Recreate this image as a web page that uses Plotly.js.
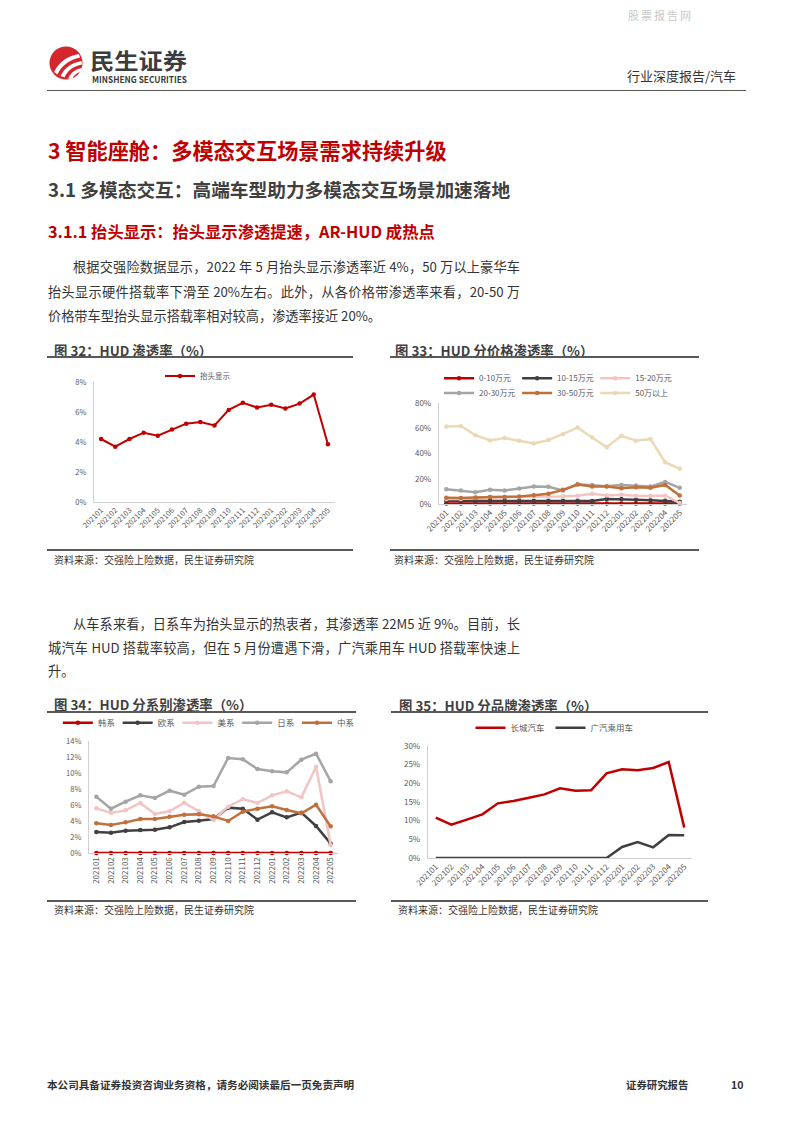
<!DOCTYPE html>
<html>
<head>
<meta charset="utf-8">
<script src="https://cdn.plot.ly/plotly-3.0.1.min.js"></script>
<style>
  html, body { margin:0; padding:0; background:#fff; }
  body { width:794px; height:1123px; position:relative; overflow:hidden;
         font-family:"Noto Sans CJK SC","Noto Sans",sans-serif; color:#333; }
  .t { position:absolute; white-space:nowrap; }
  .hr { position:absolute; background:#595959; }
  .chart { position:absolute; }
  .jl { position:absolute; text-align:justify; text-align-last:justify; white-space:nowrap; }
</style>
</head>
<body>

<div class="t" style="left:628px;top:7px;font-size:11px;line-height:16px;color:#c8c8c8;letter-spacing:2px;">股票报告网</div>

<svg style="position:absolute;left:48px;top:45px;" width="36" height="36" viewBox="0 0 36 36">
  <circle cx="18" cy="18" r="16.5" fill="#D4262C"/>
  <path d="M6,27 C11,17 19,11 31,9 L32,12.5 C22,14.5 14,20 9.5,29.5 Z" fill="#fff"/>
  <path d="M12.5,31 C16.5,23 23,18 33.5,16 L34,19.5 C25.5,21 19.5,25.5 16.5,32.5 Z" fill="#fff"/>
  <path d="M20,33.5 C22.5,28 27.5,24 34.3,23 L33.8,26.5 C29,27.5 26,30 24,34 Z" fill="#fff"/>
</svg>
<div class="t" id="mlogo" style="left:90px;top:47.5px;font-size:22px;line-height:22px;height:22px;font-weight:bold;color:#3c3c3c;transform-origin:0 50%;">民生证券</div>
<div class="t" id="msec" style="left:92px;top:75px;font-size:9px;line-height:9px;height:9px;font-weight:bold;color:#3c3c3c;transform-origin:0 50%;">MINSHENG SECURITIES</div>

<div class="t" style="left:627px;top:67px;font-size:13px;line-height:18px;color:#333;">行业深度报告/汽车</div>
<div class="hr" style="left:47px;top:90px;width:699px;height:1px;background:#555;"></div>

<div class="t" style="left:48px;top:135px;font-size:21.2px;line-height:30px;font-weight:bold;color:#C00000;">3 智能座舱：多模态交互场景需求持续升级</div>
<div class="t" style="left:48px;top:176px;font-size:18.7px;line-height:26px;font-weight:bold;color:#404040;">3.1 多模态交互：高端车型助力多模态交互场景加速落地</div>
<div class="t" style="left:48px;top:220px;font-size:16.3px;line-height:22px;font-weight:bold;color:#C00000;">3.1.1 抬头显示：抬头显示渗透提速，AR-HUD 成热点</div>

<div class="jl" style="left:73px;top:257px;width:447px;font-size:13.2px;line-height:20px;">根据交强险数据显示，2022 年 5 月抬头显示渗透率近 4%，50 万以上豪华车</div>
<div class="jl" style="left:48px;top:282px;width:472px;font-size:13.2px;line-height:20px;">抬头显示硬件搭载率下滑至 20%左右。此外，从各价格带渗透率来看，20-50 万</div>
<div class="t" style="left:48px;top:305.5px;font-size:13.2px;line-height:20px;">价格带车型抬头显示搭载率相对较高，渗透率接近 20%。</div>

<div class="t" style="left:54px;top:341px;font-size:13.4px;line-height:18px;font-weight:bold;color:#404040;">图 32：HUD 渗透率（%）</div>
<div class="hr" style="left:47px;top:356px;width:306px;height:2px;"></div>
<div class="t" style="left:395px;top:341px;font-size:13.4px;line-height:18px;font-weight:bold;color:#404040;">图 33：HUD 分价格渗透率（%）</div>
<div class="hr" style="left:390px;top:356px;width:309px;height:2px;"></div>

<div id="c32" class="chart" style="left:47px;top:360px;width:306px;height:188px;"></div>
<div id="c33" class="chart" style="left:390px;top:360px;width:310px;height:188px;"></div>

<div class="hr" style="left:47px;top:549px;width:306px;height:2px;"></div>
<div class="hr" style="left:390px;top:549px;width:309px;height:2px;"></div>
<div class="t" style="left:54px;top:553px;font-size:10px;line-height:14px;">资料来源：交强险上险数据，民生证券研究院</div>
<div class="t" style="left:394px;top:552.5px;font-size:10px;line-height:14px;">资料来源：交强险上险数据，民生证券研究院</div>

<div class="jl" style="left:73px;top:613.5px;width:447px;font-size:13.2px;line-height:20px;">从车系来看，日系车为抬头显示的热衷者，其渗透率 22M5 近 9%。目前，长</div>
<div class="jl" style="left:48px;top:637.5px;width:472px;font-size:13.2px;line-height:20px;">城汽车 HUD 搭载率较高，但在 5 月份遭遇下滑，广汽乘用车 HUD 搭载率快速上</div>
<div class="t" style="left:48px;top:661px;font-size:13.2px;line-height:20px;">升。</div>

<div class="t" style="left:54px;top:695px;font-size:13.4px;line-height:18px;font-weight:bold;color:#404040;">图 34：HUD 分系别渗透率（%）</div>
<div class="hr" style="left:47px;top:711px;width:309px;height:2px;"></div>
<div class="t" style="left:399px;top:696px;font-size:13.4px;line-height:18px;font-weight:bold;color:#404040;">图 35：HUD 分品牌渗透率（%）</div>
<div class="hr" style="left:391px;top:711px;width:317px;height:2px;"></div>

<div id="c34" class="chart" style="left:47px;top:714px;width:309px;height:184px;"></div>
<div id="c35" class="chart" style="left:391px;top:714px;width:317px;height:184px;"></div>

<div class="hr" style="left:47px;top:900px;width:309px;height:2px;"></div>
<div class="hr" style="left:391px;top:900px;width:317px;height:2px;"></div>
<div class="t" style="left:54px;top:903px;font-size:10px;line-height:14px;">资料来源：交强险上险数据，民生证券研究院</div>
<div class="t" style="left:398px;top:903px;font-size:10px;line-height:14px;">资料来源：交强险上险数据，民生证券研究院</div>

<div class="t" style="left:47px;top:1078px;font-size:10.6px;line-height:14px;font-weight:600;color:#333;">本公司具备证券投资咨询业务资格，请务必阅读最后一页免责声明</div>
<div class="t" style="left:626px;top:1078px;font-size:10.4px;line-height:14px;font-weight:600;color:#333;">证券研究报告</div>
<div class="t" style="left:731px;top:1078px;font-size:10.5px;line-height:14px;font-weight:bold;color:#333;">10</div>

<script>
// ---------- data ----------
const months = ['202101','202102','202103','202104','202105','202106','202107','202108','202109','202110','202111','202112','202201','202202','202203','202204','202205'];

// 图32 抬头显示渗透率 (%)
const hudName = '抬头显示';
const hudRate = [4.20,3.69,4.20,4.62,4.42,4.84,5.22,5.33,5.10,6.14,6.61,6.30,6.48,6.23,6.56,7.16,3.85];

// 图33 分价格渗透率 (%)
const priceBands = ['0-10万元','10-15万元','15-20万元','20-30万元','30-50万元','50万以上'];
const price0to10  = [0.3,0.3,0.3,0.3,0.3,0.3,0.3,0.3,0.3,0.3,0.3,0.3,0.3,0.3,0.3,0.3,0.3];
const price10to15 = [2.6,2.6,2.6,2.6,2.6,2.6,2.6,2.6,2.6,2.6,2.3,3.9,3.9,3.4,2.9,2.6,1.8];
const price15to20 = [4.0,4.0,5.0,5.7,5.5,5.5,5.7,5.7,6.0,6.5,8.1,6.8,7.3,6.5,6.3,6.8,0.8];
const price20to30 = [11.7,10.7,9.4,11.2,10.7,12.3,13.8,13.6,10.7,15.7,15.1,14.1,15.1,14.6,13.8,17.5,12.8];
const price30to50 = [5.0,4.7,5.2,5.5,5.5,6.0,7.0,8.1,11.2,15.4,13.8,13.8,12.5,13.3,12.8,15.1,6.8];
const price50up   = [61.3,61.8,54.5,50.3,52.2,50.1,48.0,50.6,55.3,60.5,52.7,44.9,54.0,50.1,51.4,33.1,27.9];

// 图34 分系别渗透率 (%)
const originNames = ['韩系','欧系','美系','日系','中系'];
const korean   = [0,0,0,0,0,0,0,0,0,0,0,0,0,0,0,0,0];
const european = [2.63,2.54,2.79,2.88,2.92,3.21,3.88,4.04,4.25,5.67,5.54,4.17,5.08,4.46,5.04,3.38,1.17];
const american = [5.58,5.00,5.33,6.25,4.88,5.21,6.29,5.25,4.13,5.79,6.75,6.25,7.21,7.71,6.96,10.79,0.96];
const japanese = [7.04,5.54,6.42,7.21,6.88,7.79,7.29,8.29,8.38,11.88,11.71,10.50,10.21,10.08,11.67,12.42,8.96];
const chinese  = [3.71,3.50,3.83,4.25,4.25,4.54,4.79,4.83,4.58,4.00,5.17,5.54,5.83,5.38,4.96,6.04,3.33];

// 图35 分品牌渗透率 (%)
const brandNames = ['长城汽车','广汽乘用车'];
const greatWall = [10.8,8.93,10.27,11.7,14.64,15.27,16.16,17.05,18.66,18.04,18.13,22.68,23.75,23.48,24.1,25.71,8.13];
const gacMotor  = [0,0,0,0,0,0,0,0,0,0,0,0,2.95,4.29,2.86,6.16,6.07];

// ---------- helpers ----------
const FONT = 'Noto Sans CJK SC, Noto Sans, sans-serif';
const TICK = '#595959';
const AXIS = '#D0D0D0';
const cfg = {staticPlot:true, displayModeBar:false};

function xAxis(angle, size) {
  return {type:'category', tickangle:angle, tickfont:{size:size, color:TICK, family:FONT},
          showline:true, linecolor:AXIS, linewidth:1, ticks:'', showgrid:false, zeroline:false,
          automargin:false, range:[-0.5, months.length-0.5]};
}
function yAxis(max, step, size) {
  return {range:[0,max], dtick:step, ticksuffix:'%', tickfont:{size:size, color:TICK, family:FONT},
          showline:true, linecolor:AXIS, linewidth:1.2, ticks:'', showgrid:false, zeroline:false,
          automargin:false, ticklabelstandoff:5};
}
function line(name, y, color, width, marker, legendId) {
  const tr = {type:'scatter', x:months, y:y, name:name, mode: marker ? 'lines+markers' : 'lines',
              line:{color:color, width:width}, hoverinfo:'skip', cliponaxis:false,
              legend: legendId || 'legend'};
  if (marker) tr.marker = {color:color, size:marker, symbol:'circle'};
  return tr;
}
function leg(x, y, size) {
  return {orientation:'h', x:x, xanchor:'left', y:y, yanchor:'middle', bgcolor:'rgba(0,0,0,0)',
          font:{size:size, color:TICK, family:FONT}, itemwidth:30, borderwidth:0,
          itemclick:false, itemdoubleclick:false};
}
function legendId(i) { return i === 0 ? 'legend' : 'legend' + (i + 1); }
function baseLayout(w, h, m) {
  return {width:w, height:h, margin:Object.assign({autoexpand:false}, m),
          paper_bgcolor:'rgba(0,0,0,0)', plot_bgcolor:'rgba(0,0,0,0)',
          font:{family:FONT}, showlegend:true};
}

// ---------- 图32 ----------
const L32 = baseLayout(306, 188, {l:47, r:18, t:22, b:46});
L32.legend = leg(0.274, 1.05, 7.5);
L32.xaxis = xAxis(-45, 7.5);
L32.yaxis = yAxis(8, 2, 7.5);
Plotly.newPlot('c32', [line(hudName, hudRate, '#C00000', 2, 4.5)], L32, cfg);

// ---------- 图33 ----------
const c33colors = ['#C00000','#404040','#F2C4C4','#A5A5A5','#C0703A','#EBD8B4'];
const c33data = [price0to10, price10to15, price15to20, price20to30, price30to50, price50up];
const c33traces = c33data.map((d,i) => line(priceBands[i], d, c33colors[i], 2.5, 4.5, legendId(i)));
const L33 = baseLayout(310, 188, {l:49, r:13, t:43, b:44});
const c33legX = [0.0, 0.315, 0.63];
const c33legY = [1.246, 1.098];
c33data.forEach((d,i) => { L33[legendId(i)] = leg(c33legX[i % 3], c33legY[Math.floor(i / 3)], 8); });
L33.xaxis = xAxis(-45, 8);
L33.yaxis = yAxis(80, 20, 8);
Plotly.newPlot('c33', c33traces, L33, cfg);

// ---------- 图34 ----------
const c34colors = ['#C00000','#404040','#F2C4C4','#A5A5A5','#C0703A'];
const c34data = [korean, european, american, japanese, chinese];
const c34traces = c34data.map((d,i) => line(originNames[i], d, c34colors[i], 2.5, 4.5, legendId(i)));
const L34 = baseLayout(309, 184, {l:42, r:18, t:27, b:45});
const c34legX = [-0.125, 0.115, 0.355, 0.595, 0.835];
c34data.forEach((d,i) => { L34[legendId(i)] = leg(c34legX[i], 1.164, 8.5); });
L34.xaxis = xAxis(-90, 8);
L34.yaxis = yAxis(14, 2, 7.5);
Plotly.newPlot('c34', c34traces, L34, cfg);

// ---------- 图35 ----------
const c35traces = [line(brandNames[0], greatWall, '#C00000', 2.5, 0, 'legend'),
                   line(brandNames[1], gacMotor, '#404040', 2.5, 0, 'legend2')];
const L35 = baseLayout(317, 184, {l:37, r:16, t:32, b:40});
L35.legend = leg(0.161, 1.163, 8.5);
L35.legend2 = leg(0.464, 1.163, 8.5);
L35.xaxis = xAxis(-45, 8);
L35.yaxis = yAxis(30, 5, 8);
Plotly.newPlot('c35', c35traces, L35, cfg);

// fit logo text widths
(function(){
  [['msec', 95], ['mlogo', 97]].forEach(function(p){
    const el = document.getElementById(p[0]);
    const w = el.getBoundingClientRect().width;
    if (w > 0) el.style.transform = 'scaleX(' + (p[1] / w) + ')';
  });
})();
</script>
</body>
</html>
